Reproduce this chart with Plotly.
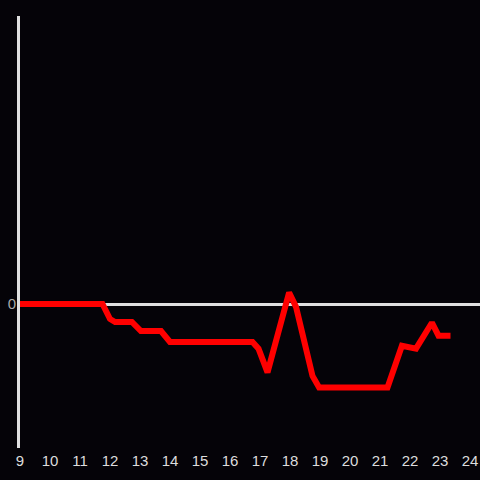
import plotly.graph_objects as go

hours = [9.0, 11.75, 12.0, 12.17, 12.73, 13.03, 13.7, 14.0, 16.75, 16.95, 17.25,
         17.97, 18.2, 18.75, 18.97, 21.25, 21.73, 22.2, 22.73, 22.95, 23.35]
values = [0.0, 0.0, -0.104, -0.125, -0.125, -0.1875, -0.1875, -0.264, -0.264, -0.31, -0.475,
          0.08, -0.02, -0.5, -0.58, -0.58, -0.29, -0.31, -0.13, -0.22, -0.22]
x_ticks = list(range(9, 25))
y_ticks = [0]

bg = "#050308"
fig = go.Figure(go.Scatter(x=hours, y=values, mode="lines",
                           line=dict(color="#ff0000", width=6), hoverinfo="skip"))
fig.update_layout(
    width=480, height=480,
    margin=dict(l=20, r=0, t=16, b=32, autoexpand=False),
    paper_bgcolor=bg, plot_bgcolor=bg,
    showlegend=False,
    font=dict(family="Liberation Sans, Arial, sans-serif", size=15, color="#dddddd"),
)
fig.update_xaxes(range=[9, 24.333], tickvals=x_ticks, ticktext=[str(t) for t in x_ticks],
                 showgrid=False, zeroline=False, showline=False, ticks="", automargin=False,
                 ticklabelstandoff=2,
                 tickfont=dict(size=15, color="#dddddd"))
fig.update_yaxes(range=[-1, 2.0], tickvals=y_ticks, ticktext=["0"], automargin=False,
                 showgrid=False, zeroline=True, zerolinecolor="#e0e0e0", zerolinewidth=3,
                 showline=True, linecolor="#e0e0e0", linewidth=3, ticks="",
                 ticklabelstandoff=-2,
                 tickfont=dict(size=15, color="#aaaaaa"))
fig.write_html("out.html", config={"displayModeBar": False},
               post_script="document.body.style.margin='0';document.body.style.background='#050308';")
